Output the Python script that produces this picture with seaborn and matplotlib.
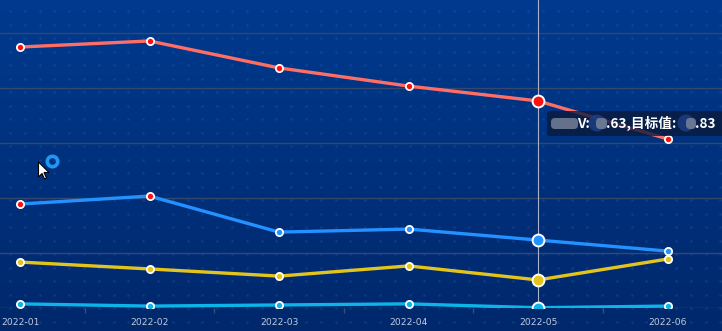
import numpy as np
import pandas as pd
import matplotlib
matplotlib.use("Agg")
import matplotlib.pyplot as plt
import seaborn as sns
from matplotlib.patches import FancyBboxPatch, Circle, Polygon, Ellipse

# ---------------- data ----------------
months = ["2022-01", "2022-02", "2022-03", "2022-04", "2022-05", "2022-06"]
series_names = ["S1", "S2", "S3", "S4"]
s1_vals = [94.9, 97.1, 87.3, 80.7, 75.3, 61.5]
s2_vals = [37.8, 40.7, 27.6, 28.7, 24.7, 20.7]
s3_vals = [16.7, 14.2, 11.6, 15.3, 10.2, 17.8]
s4_vals = [1.5, 0.7, 1.1, 1.5, 0.1, 0.7]
tooltip_text_a = "V:"
tooltip_text_b = ".63,目标值:"
tooltip_text_c = ".83"
highlight_idx = 4

line_colors = {"S1": "#ff6e64", "S2": "#2391ff", "S3": "#e3c41c", "S4": "#0db4e8"}
marker_fills = {
    "S1": ["#ff1010"] * 6,
    "S2": ["#ff1010", "#ff1010", "#2391ff", "#2391ff", "#2391ff", "#2391ff"],
    "S3": ["#e3c41c"] * 6,
    "S4": ["#0db4e8"] * 6,
}

df = pd.DataFrame({
    "month": months * 4,
    "value": s1_vals + s2_vals + s3_vals + s4_vals,
    "series": [n for n in series_names for _ in months],
})

sns.set_theme(style="white")
plt.rcParams["font.family"] = ["Noto Sans CJK SC", "DejaVu Sans"]

W, H = 722, 331
fig = plt.figure(figsize=(W / 100, H / 100), dpi=100)

# background gradient + dot pattern
bg = fig.add_axes([0, 0, 1, 1], zorder=-5)
top = np.array([0, 58, 142]) / 255
bot = np.array([0, 40, 108]) / 255
t = np.linspace(0, 1, 256)[:, None]
grad = top[None, :] * (1 - t) + bot[None, :] * t
img = np.repeat(grad[:, None, :], 4, axis=1)
bg.imshow(img, extent=[0, W, H, 0], aspect="auto")
gx, gy = np.meshgrid(np.arange(10, W, 14.8), np.arange(11, H, 13.5))
bg.scatter(gx.ravel(), gy.ravel(), s=3.5, color="#3a64b0", alpha=0.28, linewidths=0)
bg.set_xlim(0, W)
bg.set_ylim(H, 0)
bg.axis("off")

# main axes (category bands extend past the left/right figure edges)
left_px, right_px, base_px = -44.75, 732.25, 308
ax = fig.add_axes([left_px / W, (H - base_px) / H, (right_px - left_px) / W, base_px / H])
ax.set_facecolor("none")

sns.lineplot(data=df, x="month", y="value", hue="series", palette=line_colors,
             linewidth=2.4, legend=False, sort=False, ax=ax, zorder=3)

for name, vals in zip(series_names, [s1_vals, s2_vals, s3_vals, s4_vals]):
    for i, (m, v) in enumerate(zip(months, vals)):
        big = i == highlight_idx
        ax.plot([m], [v], marker="o", ms=8.5 if big else 5.2,
                mfc=marker_fills[name][i], mec="white", mew=1.4 if big else 1.3,
                zorder=5, clip_on=True)

ax.set_xlim(-0.5, 5.5)
ax.set_ylim(0, 112)
ax.set_yticks([0, 20, 40, 60, 80, 100])
ax.yaxis.grid(True, color="#34476f", linewidth=1.0)
ax.set_axisbelow(True)
ax.tick_params(axis="y", left=False, labelleft=False)
ax.set_xticks(range(6))
ax.set_xticklabels(months)
ax.set_xticks([0.5, 1.5, 2.5, 3.5, 4.5], minor=True)
ax.tick_params(axis="x", which="major", length=0, labelsize=6.6, labelcolor="#c2cadb",
               pad=7)
ax.tick_params(axis="x", which="minor", length=3.5, color="#3c4f78", width=1,
               direction="out", bottom=True)
for lab in ax.get_xticklabels():
    lab.set_family(["DejaVu Sans"])
ax.set_xlabel("")
ax.set_ylabel("")
for side in ["top", "right", "left", "bottom"]:
    ax.spines[side].set_visible(False)

# crosshair
ax.axvline(highlight_idx, color="#a9b4cc", linewidth=0.8, zorder=4)

# overlay in pixel coordinates for tooltip / cursor
ov = fig.add_axes([0, 0, 1, 1], zorder=20)
ov.set_xlim(0, W)
ov.set_ylim(H, 0)
ov.axis("off")

ov.add_patch(FancyBboxPatch((547, 111), 190, 25,
                            boxstyle="round,pad=0,rounding_size=2",
                            facecolor="#0a1a3c", edgecolor="none", alpha=0.8))
# blurred (redacted) parts
for cx in [597, 686]:
    ov.add_patch(Ellipse((cx, 123), 17, 17, facecolor="#1d3f86", edgecolor="none",
                         alpha=0.8))
for x0, x1 in [(551, 578), (596, 607), (686, 696)]:
    ov.add_patch(FancyBboxPatch((x0, 118), x1 - x0, 11,
                                boxstyle="round,pad=0,rounding_size=4",
                                facecolor="#7d879b", edgecolor="none", alpha=0.8))
ov.text(577, 123.5, tooltip_text_a, color="white", fontsize=9.8, va="center",
        ha="left", fontweight="bold")
ov.text(606, 123.5, tooltip_text_b, color="white", fontsize=9.8, va="center",
        ha="left", fontweight="bold")
ov.text(695, 123.5, tooltip_text_c, color="white", fontsize=9.8, va="center",
        ha="left", fontweight="bold")

# loading ring and mouse cursor
ov.add_patch(Circle((52.5, 161.5), 5.2, fill=False, edgecolor="#2196f3", linewidth=2.6))
cursor = [(38.5, 162), (38.5, 177), (42, 173.5), (44.5, 179), (46.5, 178), (44, 172.5),
          (49, 172.5)]
ov.add_patch(Polygon(cursor, closed=True, facecolor="white", edgecolor="black",
                     linewidth=0.8))

fig.savefig("out.png", dpi=100)
